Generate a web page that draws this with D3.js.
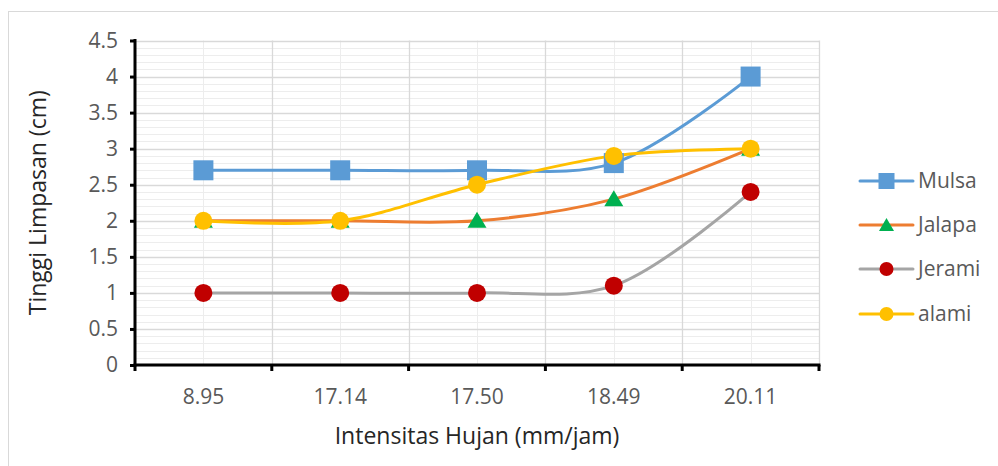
<!DOCTYPE html>
<html><head><meta charset="utf-8">
<script src="https://cdn.jsdelivr.net/npm/d3@7"></script>
<style>body{margin:0;background:#fff}svg{display:block}</style>
</head><body>
<svg id="c" width="998" height="466"></svg>
<script>
const categories = ["8.95","17.14","17.50","18.49","20.11"];
const mulsa  = [2.7, 2.7, 2.7, 2.8, 4.0];
const jalapa = [2.0, 2.0, 2.0, 2.3, 3.0];
const jerami = [1.0, 1.0, 1.0, 1.1, 2.4];
const alami  = [2.0, 2.0, 2.5, 2.9, 3.0];
const yTicks = [0,0.5,1,1.5,2,2.5,3,3.5,4,4.5];
const seriesNames = ["Mulsa","Jalapa","Jerami","alami"];

const series = [
  {name:"Mulsa", values:mulsa, line:"#5B9BD5", fill:"#5B9BD5", shape:"square"},
  {name:"Jalapa", values:jalapa, line:"#ED7D31", fill:"#00B050", shape:"triangle"},
  {name:"Jerami", values:jerami, line:"#A5A5A5", fill:"#C00000", shape:"circle"},
  {name:"alami", values:alami, line:"#FFC000", fill:"#FFC000", shape:"circle"}
];

const svg = d3.select("#c");
const L=135, R=819, T=40.5, B=365;
const font = "'Open Sans', 'Noto Sans', sans-serif";

svg.append("rect").attr("x",8.5).attr("y",11.5).attr("width",1000).attr("height",500)
  .attr("fill","none").attr("stroke","#d9d9d9").attr("stroke-width",1);

const x = d3.scaleBand().domain(categories).range([L,R]).padding(0);
const y = d3.scaleLinear().domain([0,4.5]).range([B,T]);

const g = svg.append("g");
d3.range(0,4.51,0.1).forEach(v=>{
  const major = Math.abs(v*2-Math.round(v*2))<1e-6;
  if(!major) g.append("line").attr("x1",L).attr("x2",R).attr("y1",Math.round(y(v))+0.5).attr("y2",Math.round(y(v))+0.5)
    .attr("stroke","#ededed").attr("stroke-width",1);
});
categories.forEach(c=>{
  const cx = Math.round(x(c)+x.bandwidth()/2)+0.5;
  g.append("line").attr("x1",cx).attr("x2",cx).attr("y1",T).attr("y2",B).attr("stroke","#ededed");
});
yTicks.forEach(v=>{
  g.append("line").attr("x1",L).attr("x2",R).attr("y1",Math.round(y(v))+0.5).attr("y2",Math.round(y(v))+0.5)
    .attr("stroke","#d9d9d9").attr("stroke-width",1.3);
});
categories.forEach((c,i)=>{
  const bx = Math.round(x(c)+x.bandwidth())+0.5;
  g.append("line").attr("x1",bx).attr("x2",bx).attr("y1",T).attr("y2",B).attr("stroke","#d9d9d9").attr("stroke-width",1.3);
});

const yAxis = d3.axisLeft(y).tickValues(yTicks).tickSize(5).tickPadding(12).tickFormat(d=>String(d));
const ya = svg.append("g").attr("transform",`translate(${L},0)`).call(yAxis);
ya.select(".domain").attr("stroke","#000").attr("stroke-width",3).attr("d",`M0,${T-1.5}V${B+1.5}`);
ya.selectAll(".tick line").attr("stroke","#000").attr("stroke-width",3);
ya.selectAll("text").attr("fill","#595959").style("font-family",font).style("font-size","21px");

const xAxis = d3.axisBottom(x).tickSize(0).tickPadding(24);
const xa = svg.append("g").attr("transform",`translate(0,${B})`).call(xAxis);
xa.select(".domain").attr("stroke","#000").attr("stroke-width",3).attr("d",`M${L-1.5},0H${R+1.5}`);
xa.selectAll("text").attr("fill","#595959").style("font-family",font).style("font-size","21px");
const bounds = [L].concat(categories.map(c=>x(c)+x.bandwidth()));
xa.selectAll(".bt").data(bounds).enter().append("line").attr("class","bt")
  .attr("x1",d=>d).attr("x2",d=>d).attr("y1",0).attr("y2",6).attr("stroke","#000").attr("stroke-width",3);

svg.append("text").attr("x",(L+R)/2).attr("y",444).attr("text-anchor","middle")
  .style("font-family",font).style("font-size","23px").attr("fill","#262626").text("Intensitas Hujan (mm/jam)");
svg.append("text").attr("transform",`translate(46,${(T+B)/2}) rotate(-90)`).attr("text-anchor","middle")
  .style("font-family",font).style("font-size","23px").attr("fill","#262626").text("Tinggi Limpasan (cm)");

const cx = c => x(c)+x.bandwidth()/2;
const line = d3.line().x((d,i)=>cx(categories[i])).y(d=>y(d)).curve(d3.curveCatmullRom.alpha(0.5));

function marker(sel, shape, fill){
  if(shape==="square") sel.append("rect").attr("x",-10).attr("y",-10).attr("width",20).attr("height",20).attr("fill",fill);
  else if(shape==="circle") sel.append("circle").attr("r",9).attr("fill",fill);
  else sel.append("path").attr("d","M0,-9L9.5,7L-9.5,7Z").attr("fill",fill);
}

series.forEach(s=>{
  svg.append("path").attr("d",line(s.values)).attr("fill","none").attr("stroke",s.line).attr("stroke-width",3).attr("stroke-linecap","round");
});
series.forEach(s=>{
  s.values.forEach((v,i)=>{
    const m = svg.append("g").attr("transform",`translate(${cx(categories[i])},${y(v)})`);
    marker(m, s.shape, s.fill);
  });
});

const legY = [181,225,269,314];
series.forEach((s,i)=>{
  const lg = svg.append("g").attr("transform",`translate(860,${legY[i]})`);
  lg.append("line").attr("x1",0).attr("x2",53).attr("y1",0).attr("y2",0).attr("stroke",s.line).attr("stroke-width",3).attr("stroke-linecap","round");
  const m = lg.append("g").attr("transform","translate(26.5,0)");
  if(s.shape==="square") m.append("rect").attr("x",-8).attr("y",-8).attr("width",16).attr("height",16).attr("fill",s.fill);
  else if(s.shape==="circle") m.append("circle").attr("r",7).attr("fill",s.fill);
  else m.append("path").attr("d","M0,-7L7.5,6L-7.5,6Z").attr("fill",s.fill);
  lg.append("text").attr("x",58).attr("y",0).attr("dy","0.35em").style("font-family",font).style("font-size","21px")
    .attr("fill","#595959").text(seriesNames[i]);
});
</script>
</body></html>
